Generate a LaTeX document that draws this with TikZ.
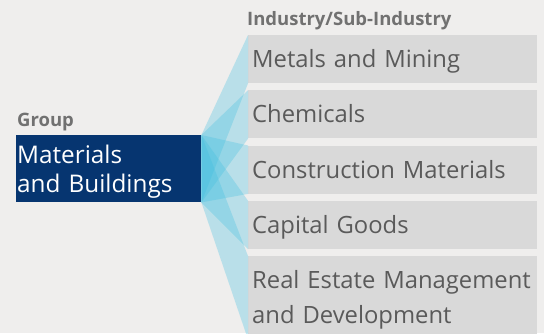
\documentclass[tikz,border=0pt]{standalone}
\usepackage{fontspec}
\setmainfont{Open Sans}
\definecolor{pagebg}{HTML}{EFEEED}
\definecolor{groupblue}{HTML}{063570}
\definecolor{subgray}{HTML}{D9D9D9}
\definecolor{subtext}{HTML}{5A5A5A}
\definecolor{headgray}{HTML}{717171}
\definecolor{fanblue}{HTML}{3FBFE0}
\begin{document}
\begin{tikzpicture}[x=1pt,y=-1pt,
  heading/.style={anchor=base west, inner sep=0pt, text=headgray,
    font=\fontsize{18.5}{22}\selectfont\bfseries},
  groupbox/.style={anchor=north west, fill=groupblue, text=white,
    text width=183pt, inner xsep=1pt, inner ysep=9.8pt, align=left,
    text height=18pt, text depth=29.4pt,
    font=\fontsize{24.3}{29.4}\selectfont},
  subbox/.style={anchor=north west, fill=subgray, text=subtext,
    text width=281pt, inner xsep=4pt, inner ysep=15.5pt, align=left,
    text height=17pt, text depth=0pt,
    font=\fontsize{23.8}{35}\selectfont},
  fan/.style={fill=fanblue, fill opacity=0.3, draw=none}
]
\useasboundingbox[fill=pagebg] (0,0) rectangle (544,333);
\begin{scope}
\clip (0,0) rectangle (544,333);

\node[heading] (grphead) at (17,126.5) {Group};
\node[heading] (subhead) at (247,25) {Industry/Sub-Industry};

\node[groupbox] (grp) at (16,135) {Materials\\and Buildings};

\node[subbox] (s1) at (248,35)     {Metals and Mining};
\node[subbox] (s2) at (248,90.25)  {Chemicals};
\node[subbox] (s3) at (248,145.5)  {Construction Materials};
\node[subbox] (s4) at (248,200.75) {Capital Goods};
\node[subbox, text depth=35pt] (s5) at (248,256) {Real Estate Management\\and Development};

% translucent fans joining the group to each sub-industry
\foreach \s in {s1,s2,s3,s4,s5}{
  \fill[fan] (grp.north east) -- (\s.north west) -- (\s.south west) -- (grp.south east) -- cycle;
}
\end{scope}
\end{tikzpicture}
\end{document}
